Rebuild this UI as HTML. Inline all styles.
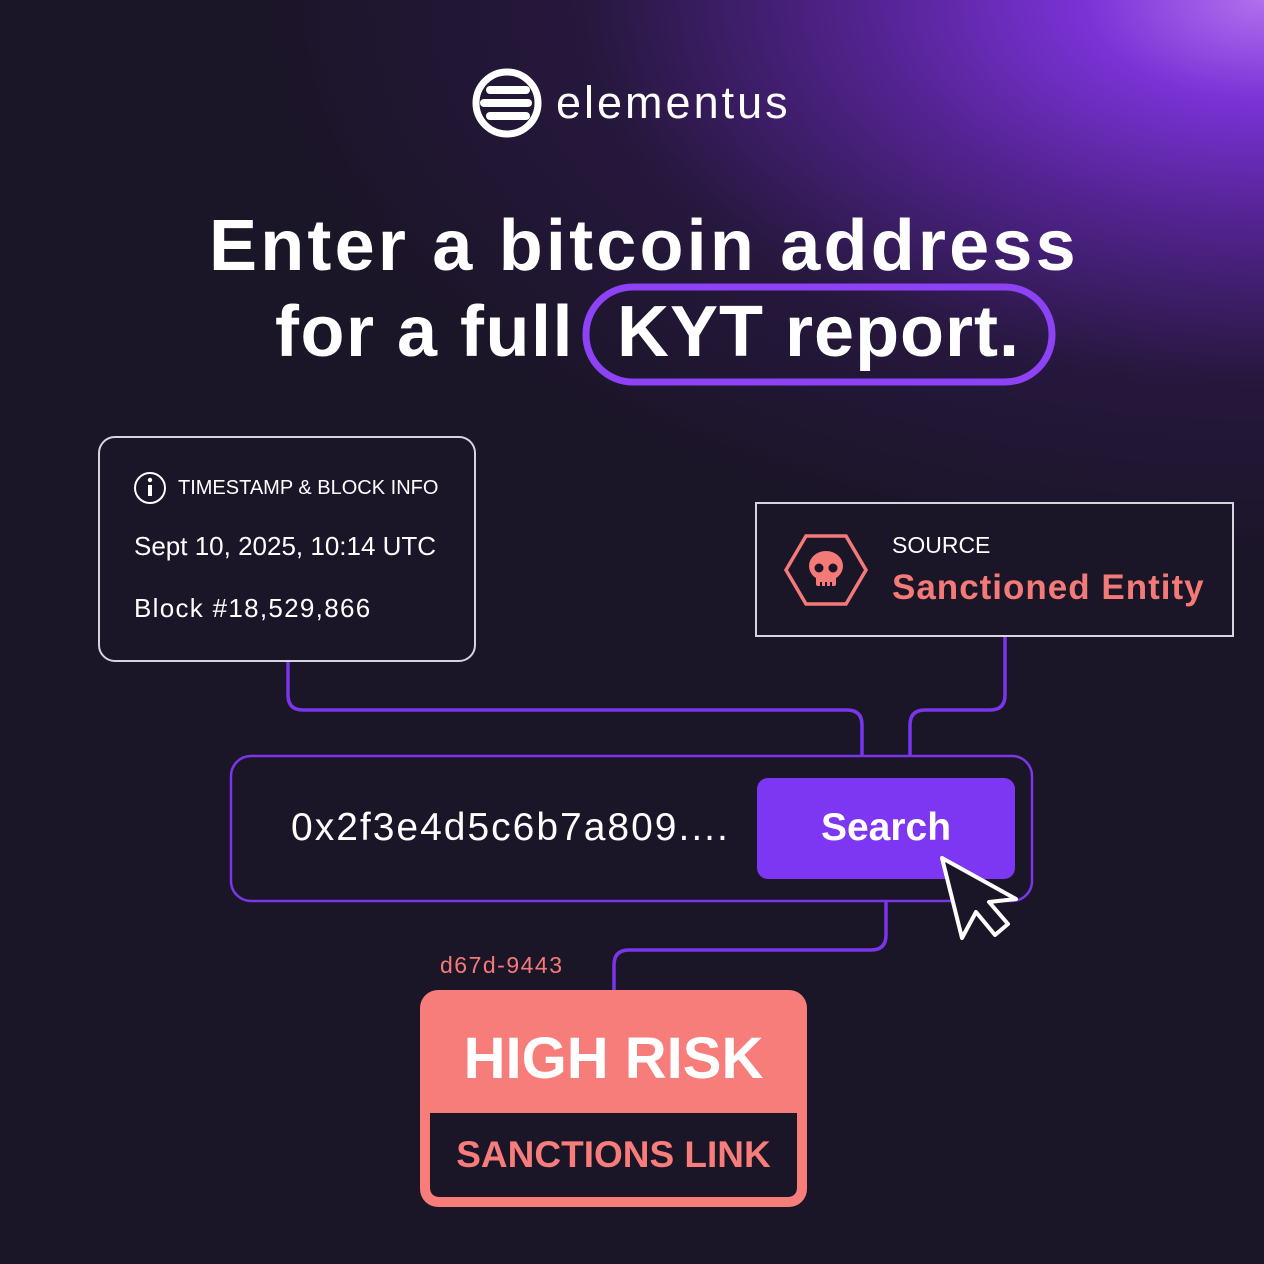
<!DOCTYPE html>
<html><head><meta charset="utf-8"><style>
html,body{margin:0;padding:0}
body{width:1264px;height:1264px;position:relative;overflow:hidden;background:#1b1528;font-family:"Liberation Sans",sans-serif;color:#fff}
.bg{position:absolute;inset:0;background:radial-gradient(ellipse 1000px 560px at 1264px 0px,#b070ee 0%,#7a32d6 18%,#52238f 40%,rgba(45,25,75,0.6) 68%,rgba(27,21,40,0) 100%)}
.t{position:absolute;white-space:nowrap}
</style></head><body>
<div class="bg"></div>
<svg width="1264" height="1264" style="position:absolute;left:0;top:0">
 <circle cx="507" cy="103" r="31" fill="none" stroke="#fff" stroke-width="7"/>
 <rect x="486" y="86" width="44" height="8" rx="4" fill="#fff"/>
 <rect x="480" y="99" width="52" height="8" rx="4" fill="#fff"/>
 <rect x="486" y="112" width="44" height="8" rx="4" fill="#fff"/>
 <rect x="586" y="287" width="466" height="95" rx="47" fill="none" stroke="#8d42f5" stroke-width="7"/>
 <rect x="99" y="437" width="376" height="224" rx="16" fill="#1b1528" stroke="#d8d4de" stroke-width="2"/>
 <rect x="756" y="503" width="477" height="133" fill="#1b1528" stroke="#d8d4de" stroke-width="2"/>
 <circle cx="150" cy="488" r="15" fill="none" stroke="#fff" stroke-width="2"/>
 <circle cx="150" cy="480" r="2.2" fill="#fff"/>
 <rect x="148" y="485" width="4" height="11" fill="#fff"/>
 <polygon points="786,570 806,536 846,536 866,570 846,604 806,604" fill="none" stroke="#f47a78" stroke-width="3.5"/>
 <ellipse cx="826" cy="566" rx="17" ry="15" fill="#f47a78"/>
 <rect x="816" y="574" width="20" height="12" rx="2" fill="#f47a78"/>
 <circle cx="819" cy="568" r="4.5" fill="#1b1528"/>
 <circle cx="833" cy="568" r="4.5" fill="#1b1528"/>
 <rect x="820" y="582" width="2" height="6" fill="#1b1528"/>
 <rect x="825" y="582" width="2" height="6" fill="#1b1528"/>
 <rect x="830" y="582" width="2" height="6" fill="#1b1528"/>
 <g fill="none" stroke="#7b35ea" stroke-width="3.5">
  <path d="M288 662 V695 Q288 710 303 710 H847 Q862 710 862 725 V755"/>
  <path d="M1005 637 V695 Q1005 710 990 710 H925 Q910 710 910 725 V755"/>
  <path d="M886 901 V935 Q886 950 871 950 H629 Q614 950 614 965 V990"/>
 </g>
 <rect x="231" y="756" width="801" height="145" rx="20" fill="#1b1528" stroke="#7b35ea" stroke-width="2.5"/>
 <rect x="757" y="778" width="258" height="101" rx="11" fill="#7d36f2"/>
 <path d="M942 858 L962 938 L976 912 L995 935 L1008 924 L989 902 L1016 899 Z" fill="#1b1528" stroke="#fff" stroke-width="4" stroke-linejoin="round"/>
 <rect x="420" y="990" width="387" height="217" rx="18" fill="#f77d7b"/>
 <path d="M430 1113 H797 V1187 Q797 1197 787 1197 H440 Q430 1197 430 1187 Z" fill="#1b1528"/>
</svg>
<div class="t" style="left:556px;top:78px;font-size:45px;line-height:50px;letter-spacing:3px">elementus</div>
<div class="t" style="left:209px;top:204px;font-size:72px;font-weight:bold;line-height:84px;letter-spacing:3.2px">Enter a bitcoin address</div>
<div class="t" style="left:275px;top:290px;font-size:72px;font-weight:bold;line-height:84px;letter-spacing:1.5px">for a full</div>
<div class="t" style="left:617px;top:290px;font-size:72px;font-weight:bold;line-height:84px;letter-spacing:1px">KYT report.</div>
<div class="t" style="left:178px;top:476px;font-size:20px;line-height:24px">TIMESTAMP &amp; BLOCK INFO</div>
<div class="t" style="left:134px;top:531px;font-size:26px;line-height:30px">Sept 10, 2025, 10:14 UTC</div>
<div class="t" style="left:134px;top:593px;font-size:26px;line-height:30px;letter-spacing:1.3px">Block #18,529,866</div>
<div class="t" style="left:892px;top:531px;font-size:23px;line-height:28px">SOURCE</div>
<div class="t" style="left:892px;top:568px;font-size:35px;font-weight:bold;line-height:40px;color:#f47a78;letter-spacing:1px">Sanctioned Entity</div>
<div class="t" style="left:291px;top:806px;font-size:39px;line-height:44px;letter-spacing:2px">0x2f3e4d5c6b7a809....</div>
<div class="t" style="left:757px;width:258px;text-align:center;top:806px;font-size:39px;font-weight:bold;line-height:44px">Search</div>
<div class="t" style="left:440px;top:952px;font-size:23px;line-height:26px;color:#f47a78;letter-spacing:1.5px">d67d-9443</div>
<div class="t" style="left:420px;width:387px;text-align:center;top:1026px;font-size:58px;font-weight:bold;line-height:66px">HIGH RISK</div>
<div class="t" style="left:420px;width:387px;text-align:center;top:1134px;font-size:37px;font-weight:bold;line-height:42px;color:#f77d7b">SANCTIONS LINK</div>
</body></html>
